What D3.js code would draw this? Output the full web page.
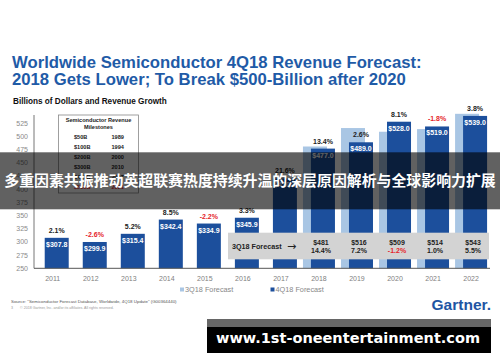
<!DOCTYPE html>
<html>
<head>
<meta charset="utf-8">
<script src="https://cdn.jsdelivr.net/npm/d3@7"></script>
<style>
  body { margin: 0; background: #fff; }
  svg { display: block; font-family: "Liberation Sans", Arial, sans-serif; }
</style>
</head>
<body>
<svg id="chart" width="500" height="362"></svg>
<script>
let years = ["2011","2012","2013","2014","2015","2016","2017","2018","2019","2020","2021","2022"];
let rev4q = [307.8, 299.9, 315.4, 342.4, 334.9, 345.9, 420.4, 477.0, 489.0, 528.0, 519.0, 539.0];
let gro4q = ["2.1%","-2.6%","5.2%","8.5%","-2.2%","3.3%","21.6%","13.4%","2.6%","8.1%","-1.8%","3.8%"];
let years3q = ["2018","2019","2020","2021","2022"];
let rev3q = [481, 516, 509, 514, 543];
let gro3q = ["14.4%","7.2%","-1.2%","1.0%","5.5%"];
let yticks = [250,275,300,325,350,375,400,425,450,475,500,525];
let milestones = [["$50B","1989"],["$100B","1994"],["$200B","2000"],["$300B","2010"],["$400B","2017"],["$500B","2021"]];

let dark = "#1c4f9c";
let light = "#a9c6e4";
let red = "#e5252b";

let svg = d3.select("#chart");

let xscale = d3.scaleBand().domain(years).range([33.7, 490.1]).padding(0);
let yscale = d3.scaleLinear().domain([250, 525]).range([268.3, 123.3]);
let cx = d => xscale(d) + xscale.bandwidth() / 2;

// title
svg.append("text").attr("x", 12).attr("y", 68)
    .text("Worldwide Semiconductor 4Q18 Revenue Forecast:")
    .style("fill", "#1f5ba7").style("font-size", "16.7px").style("font-weight", "bold");
svg.append("text").attr("x", 12).attr("y", 85)
    .text("2018 Gets Lower; To Break $500-Billion after 2020")
    .style("fill", "#1f5ba7").style("font-size", "16.7px").style("font-weight", "bold");
svg.append("text").attr("x", 13).attr("y", 104)
    .text("Billions of Dollars and Revenue Growth")
    .style("fill", "#111").style("font-size", "8.2px").style("font-weight", "bold");

// y axis
svg.selectAll(".ylab")
    .data(yticks)
    .enter()
    .append("text")
    .attr("class", "ylab")
    .attr("x", 28)
    .attr("y", d => yscale(d))
    .attr("dy", "0.35em")
    .text(d => d)
    .style("text-anchor", "end")
    .style("fill", "#8a8a8a")
    .style("font-size", "7px");

svg.append("line").attr("x1", 34).attr("x2", 34).attr("y1", 115).attr("y2", yscale(250))
    .style("stroke", "#777").style("stroke-width", 1);

// milestones box
let mg = svg.append("g");
mg.append("rect").attr("x", 58.5).attr("y", 115).attr("width", 80).attr("height", 78)
    .style("fill", "#fff").style("stroke", "#888").style("stroke-width", 0.8);
mg.append("text").attr("x", 98.5).attr("y", 122).text("Semiconductor Revenue")
    .style("text-anchor", "middle").style("font-size", "5.6px").style("font-weight", "bold").style("fill", "#222");
mg.append("text").attr("x", 98.5).attr("y", 129).text("Milestones")
    .style("text-anchor", "middle").style("font-size", "5.6px").style("font-weight", "bold").style("fill", "#222");
mg.selectAll(".mrow")
    .data(milestones)
    .enter()
    .append("g")
    .attr("class", "mrow")
    .each(function(d, i) {
        let col = i == milestones.length - 1 ? red : "#222";
        d3.select(this).append("text").attr("x", 74).attr("y", 138.5 + i * 10).text(d[0])
            .style("font-size", "5.6px").style("font-weight", "bold").style("fill", col);
        d3.select(this).append("text").attr("x", 111.5).attr("y", 138.5 + i * 10).text(d[1])
            .style("font-size", "5.6px").style("font-weight", "bold").style("fill", col);
    });

// 3Q18 bars (behind)
svg.selectAll(".b3q")
    .data(years3q)
    .enter()
    .append("rect")
    .attr("class", "b3q")
    .attr("x", d => cx(d) - 16)
    .attr("y", (d, i) => yscale(rev3q[i]))
    .attr("width", 24)
    .attr("height", (d, i) => yscale(250) - yscale(rev3q[i]))
    .style("fill", light);

// 4Q18 bars
let bars = svg.selectAll(".b4q")
    .data(years)
    .enter()
    .append("g")
    .attr("class", "b4q");

bars.append("rect")
    .attr("x", d => cx(d) - 8)
    .attr("y", (d, i) => yscale(rev4q[i]))
    .attr("width", 24)
    .attr("height", (d, i) => yscale(250) - yscale(rev4q[i]))
    .style("fill", dark);

bars.append("text")
    .attr("x", d => cx(d) + 4)
    .attr("y", (d, i) => yscale(rev4q[i]) + 9)
    .text((d, i) => "$" + rev4q[i].toFixed(1))
    .style("text-anchor", "middle")
    .style("fill", "#fff")
    .style("font-size", "7px")
    .style("font-weight", "bold");

bars.append("text")
    .attr("x", d => cx(d) + 4)
    .attr("y", (d, i) => yscale(rev4q[i]) - 5)
    .text((d, i) => gro4q[i])
    .style("text-anchor", "middle")
    .style("fill", (d, i) => gro4q[i][0] == "-" ? red : "#222")
    .style("font-size", "7px")
    .style("font-weight", "bold");

// 3Q18 forecast strip
svg.append("rect").attr("x", 228).attr("y", 232.7).attr("width", 261).attr("height", 26.6)
    .style("fill", "#d3d3d3");
svg.append("text").attr("x", 232).attr("y", 248.5).text("3Q18 Forecast")
    .style("font-size", "7.2px").style("font-weight", "bold").style("fill", "#222");
svg.append("text").attr("x", 287).attr("y", 249.5).text("→")
    .style("font-family", "DejaVu Sans").style("font-size", "11px").style("fill", "#222");

svg.selectAll(".f3q")
    .data(years3q)
    .enter()
    .append("g")
    .attr("class", "f3q")
    .each(function(d, i) {
        d3.select(this).append("text").attr("x", cx(d) + 2).attr("y", 245).text("$" + rev3q[i])
            .style("text-anchor", "middle").style("font-size", "7px").style("font-weight", "bold").style("fill", "#222");
        d3.select(this).append("text").attr("x", cx(d) + 2).attr("y", 253).text(gro3q[i])
            .style("text-anchor", "middle").style("font-size", "7px").style("font-weight", "bold")
            .style("fill", gro3q[i][0] == "-" ? red : "#222");
    });

// x axis
svg.append("line").attr("x1", 34).attr("x2", 490).attr("y1", yscale(250)).attr("y2", yscale(250))
    .style("stroke", "#555").style("stroke-width", 1);
svg.selectAll(".xlab")
    .data(years)
    .enter()
    .append("text")
    .attr("class", "xlab")
    .attr("x", d => cx(d))
    .attr("y", 280.5)
    .text(d => d)
    .style("text-anchor", "middle")
    .style("fill", "#808080")
    .style("font-size", "7px");

// legend
let leg = [["3Q18 Forecast", light, 180], ["4Q18 Forecast", dark, 270.5]];
svg.selectAll(".leg")
    .data(leg)
    .enter()
    .append("g")
    .attr("class", "leg")
    .each(function(d) {
        d3.select(this).append("rect").attr("x", d[2]).attr("y", 287.5).attr("width", 4).attr("height", 4).style("fill", d[1]);
        d3.select(this).append("text").attr("x", d[2] + 5).attr("y", 292).text(d[0])
            .style("font-size", "7.3px").style("fill", "#888");
    });

// footer
svg.append("text").attr("x", 11).attr("y", 303)
    .text("Source: \"Semiconductor Forecast Database, Worldwide, 4Q18 Update\" (G00364440)")
    .style("font-size", "4.4px").style("fill", "#555");
svg.append("text").attr("x", 11).attr("y", 309).text("3")
    .style("font-size", "3.6px").style("fill", "#999");
svg.append("text").attr("x", 20).attr("y", 309)
    .text("© 2018 Gartner, Inc. and/or its affiliates. All rights reserved.")
    .style("font-size", "3.6px").style("fill", "#999");
svg.append("text").attr("x", 491).attr("y", 310).text("Gartner.")
    .style("text-anchor", "end").style("font-size", "15.5px").style("font-weight", "bold").style("fill", "#1e55a3");

// overlay banner
svg.append("rect").attr("x", 0).attr("y", 152.3).attr("width", 500).attr("height", 57)
    .style("fill", "rgba(0,0,0,0.62)");
svg.append("text").attr("x", 250).attr("y", 186)
    .text("多重因素共振推动英超联赛热度持续升温的深层原因解析与全球影响力扩展")
    .style("text-anchor", "middle")
    .style("font-family", "'Noto Sans CJK SC', sans-serif")
    .style("font-size", "14.9px")
    .style("font-weight", "bold")
    .style("fill", "#fff");

// bottom site banner
svg.append("rect").attr("x", 207).attr("y", 319).attr("width", 284).attr("height", 8).style("fill", "#666");
svg.append("rect").attr("x", 207).attr("y", 327).attr("width", 284).attr("height", 26).style("fill", "#000");
svg.append("text").attr("x", 348).attr("y", 343)
    .text("www.1st-oneentertainment.com")
    .style("text-anchor", "middle")
    .style("font-family", "'DejaVu Sans', sans-serif")
    .style("font-size", "14.5px")
    .style("font-weight", "bold")
    .style("fill", "#fff");
</script>
</body>
</html>
